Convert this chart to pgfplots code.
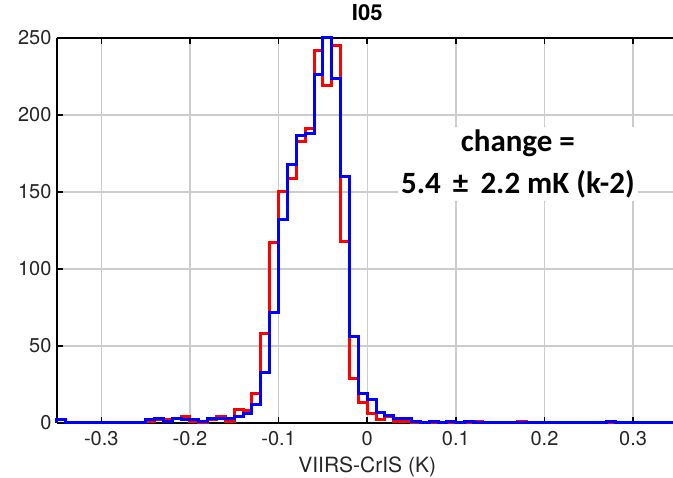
\documentclass[border=0pt]{standalone}
\usepackage{fontspec}
\setmainfont{TeX Gyre Heros}
\newfontfamily\calibri{Carlito}
\usepackage{pgfplots}
\pgfplotsset{compat=1.18}
\begin{document}
\begin{tikzpicture}
\useasboundingbox (-57pt,-55pt) rectangle (616pt,423pt);
\begin{axis}[
 at={(0pt,0pt)}, anchor=south west,
 scale only axis, width=616pt, height=385pt,
 xmin=-0.35, xmax=0.345, ymin=0, ymax=250,
 axis x line*=box, axis y line*=left,
 xtick={-0.3,-0.2,-0.1,0,0.1,0.2,0.3},
 xticklabels={-0.3,-0.2,-0.1,0,0.1,0.2,0.3},
 ytick={0,50,100,150,200,250},
 yticklabels={0,50,100,150,200,250},
 tick align=inside, xtick pos=both, ytick pos=left,
 major tick length=6pt,
 tick style={black, line width=1.5pt},
 axis line style={black, line width=2pt},
 grid=major, major grid style={black!20, line width=1.3pt},
 ticklabel style={font=\fontsize{20}{24}\selectfont, text=black!85},
 xticklabel style={yshift=-5pt},
 yticklabel style={xshift=-2pt},
 xlabel={VIIRS-CrIS (K)},
 xlabel style={font=\fontsize{21}{25}\selectfont, text=black!85, at={(axis description cs:0.5036,0)}, anchor=base, yshift=-50pt},
 title={I05},
 title style={font=\fontsize{22}{26}\selectfont\bfseries, at={(axis description cs:0.5036,1)}, anchor=base, yshift=11pt},
 clip=false,
]
\addplot[const plot, red, line width=3pt] coordinates {
(-0.35,0)(-0.35,2)(-0.34,0)(-0.25,1)(-0.24,2)(-0.23,2)(-0.22,3)(-0.21,4)(-0.20,1)(-0.19,0)(-0.18,2)(-0.17,4)(-0.16,1)(-0.15,9)(-0.14,8)(-0.13,19)(-0.12,58)(-0.11,117)(-0.10,150)(-0.09,159)(-0.08,183)(-0.07,191)(-0.06,242)(-0.05,219)(-0.04,245)(-0.03,118)(-0.02,29)(-0.01,13)(0.00,6)(0.01,2)(0.02,4)(0.03,1)(0.04,1)(0.05,0)(0.12,1)(0.13,0)(0.17,1)(0.18,0)(0.345,0)
};
\addplot[const plot, blue, line width=3pt] coordinates {
(-0.35,0)(-0.35,2)(-0.34,0)(-0.25,2)(-0.24,3)(-0.23,1)(-0.22,3)(-0.21,2)(-0.20,2)(-0.19,1)(-0.18,3)(-0.17,3)(-0.16,3)(-0.15,4)(-0.14,6)(-0.13,12)(-0.12,33)(-0.11,72)(-0.10,132)(-0.09,168)(-0.08,187)(-0.07,188)(-0.06,226)(-0.05,250)(-0.04,224)(-0.03,160)(-0.02,56)(-0.01,19)(0.00,15)(0.01,7)(0.02,5)(0.03,3)(0.04,3)(0.05,1)(0.06,0)(0.07,1)(0.08,0)(0.09,1)(0.10,0)(0.11,1)(0.12,0)(0.27,1)(0.28,0)(0.345,0)
};
\node[fill=white, align=center, inner sep=3pt, font=\calibri\bfseries\fontsize{31}{42}\selectfont] at (axis cs:0.170,168) {change =\\5.4 \,±\, 2.2 mK (k-2)};
\end{axis}
\end{tikzpicture}
\end{document}
